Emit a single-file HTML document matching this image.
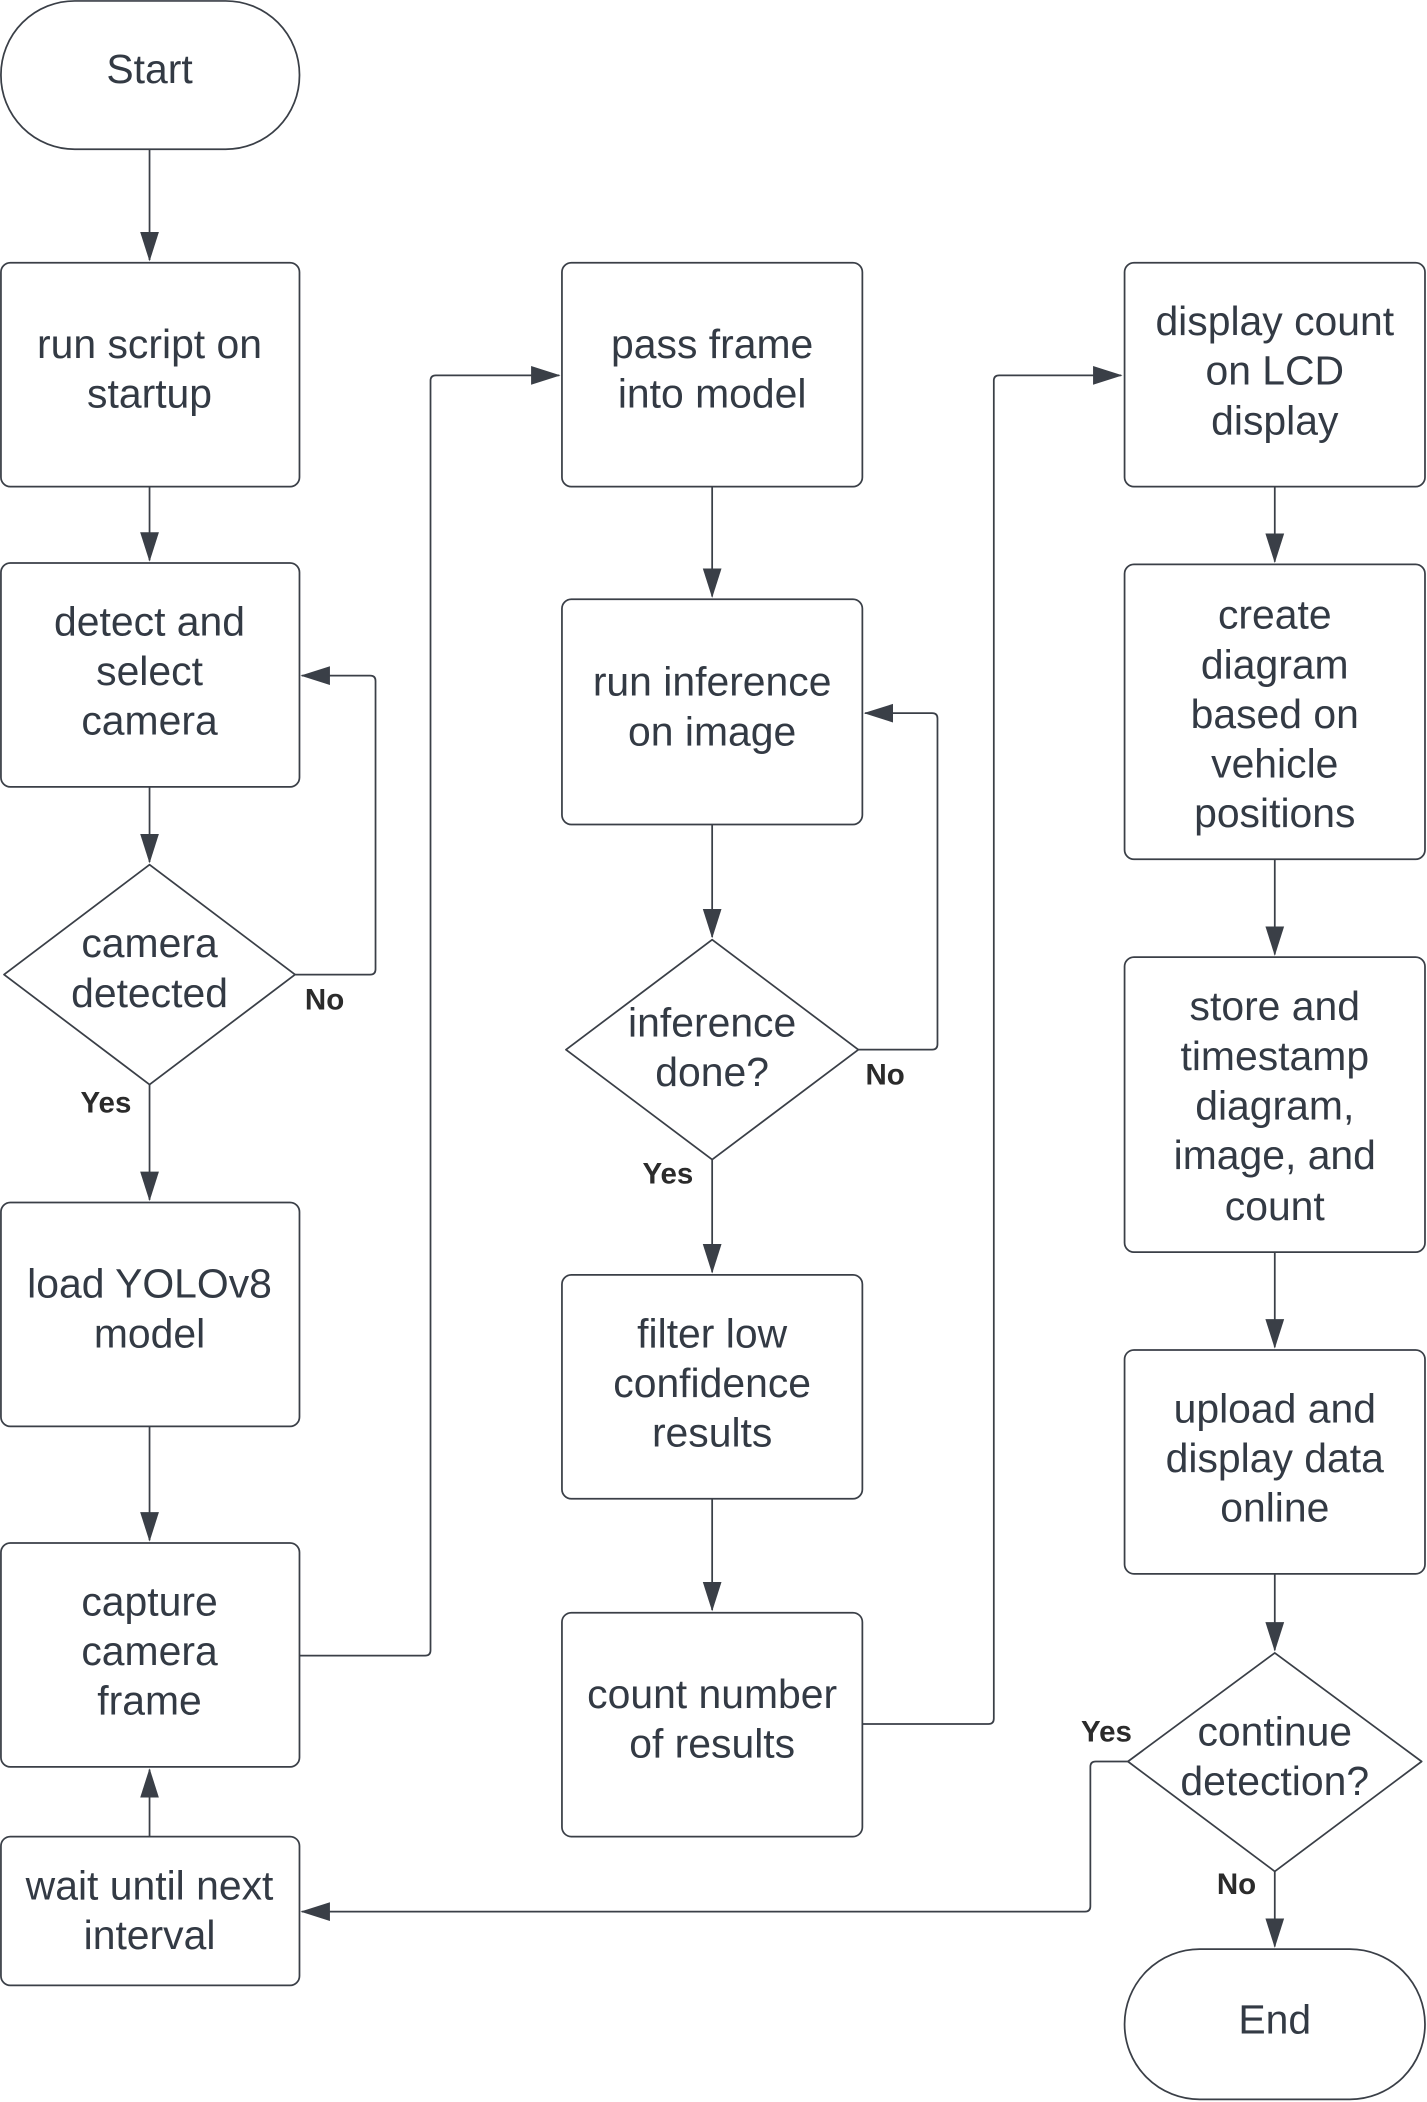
<!DOCTYPE html>
<html><head><meta charset="utf-8"><style>html,body{margin:0;padding:0;background:#fff}svg{display:block}</style></head>
<body>
<svg width="1427" height="2102" viewBox="0 0 1064 1568" preserveAspectRatio="none" xmlns="http://www.w3.org/2000/svg">
<defs>
<marker id="b" markerWidth="22" markerHeight="16" refX="21" refY="8" orient="auto" markerUnits="userSpaceOnUse"><path d="M0,1 L22,8 L0,15 z" fill="#3a3f47"/></marker></defs>
<g fill="#fff" stroke="#3a3f47" stroke-width="1.3">
<rect x="0.7" y="0.7" width="222.6" height="110.6" rx="55"/>
<rect x="0.7" y="196" width="222.6" height="167" rx="7"/>
<rect x="0.7" y="420" width="222.6" height="167" rx="7"/>
<path d="M111.5,645 L220,727 L111.5,809 L3,727 Z" stroke-linejoin="round"/>
<rect x="0.7" y="897" width="222.6" height="167" rx="7"/>
<rect x="0.7" y="1151" width="222.6" height="167" rx="7"/>
<rect x="0.7" y="1370" width="222.6" height="111" rx="7"/>
<rect x="419" y="196" width="224" height="167" rx="7"/>
<rect x="419" y="447" width="224" height="168" rx="7"/>
<path d="M531,701 L640,783 L531,865 L422,783 Z" stroke-linejoin="round"/>
<rect x="419" y="951" width="224" height="167" rx="7"/>
<rect x="419" y="1203" width="224" height="167" rx="7"/>
<rect x="838.5" y="196" width="224" height="167" rx="7"/>
<rect x="838.5" y="421" width="224" height="220" rx="7"/>
<rect x="838.5" y="714" width="224" height="220" rx="7"/>
<rect x="838.5" y="1007" width="224" height="167" rx="7"/>
<path d="M950.5,1233 L1060,1314 L950.5,1396 L841,1314 Z" stroke-linejoin="round"/>
<rect x="838.5" y="1454" width="224" height="112" rx="56"/>
</g>
<g fill="none" stroke="#3a3f47" stroke-width="1.3" marker-end="url(#b)">
<path d="M111.5,111 V194"/>
<path d="M111.5,363 V418"/>
<path d="M111.5,587 V643"/>
<path d="M111.5,809 V895"/>
<path d="M111.5,1064 V1149"/>
<path d="M111.5,1370 V1320"/>
<path d="M220,727 H276 Q280,727 280,723 V508 Q280,504 276,504 H225"/>
<path d="M223,1235 H317 Q321,1235 321,1231 V284 Q321,280 325,280 H417"/>
<path d="M531,363 V445"/>
<path d="M531,615 V699"/>
<path d="M531,865 V949"/>
<path d="M531,1118 V1201"/>
<path d="M640,783 H695 Q699,783 699,779 V536 Q699,532 695,532 H645"/>
<path d="M643,1286 H737 Q741,1286 741,1282 V284 Q741,280 745,280 H836"/>
<path d="M950.5,363 V419"/>
<path d="M950.5,641 V712"/>
<path d="M950.5,934 V1005"/>
<path d="M950.5,1174 V1231"/>
<path d="M950.5,1396 V1452"/>
<path d="M841,1314 H817 Q813,1314 813,1318 V1422 Q813,1426 809,1426 H225"/>
</g>
<g font-family="Liberation Sans, sans-serif" font-size="30.5" fill="#333a44" text-anchor="middle">
<text x="111.5" y="62">Start</text>
<text x="111.5" y="267">run script on</text><text x="111.5" y="304">startup</text>
<text x="111.5" y="474">detect and</text><text x="111.5" y="511">select</text><text x="111.5" y="548">camera</text>
<text x="111.5" y="714">camera</text><text x="111.5" y="751">detected</text>
<text x="111.5" y="968">load YOLOv8</text><text x="111.5" y="1005">model</text>
<text x="111.5" y="1205">capture</text><text x="111.5" y="1242">camera</text><text x="111.5" y="1279">frame</text>
<text x="111.5" y="1417">wait until next</text><text x="111.5" y="1454">interval</text>
<text x="531" y="267">pass frame</text><text x="531" y="304">into model</text>
<text x="531" y="519">run inference</text><text x="531" y="556">on image</text>
<text x="531" y="773">inference</text><text x="531" y="810">done?</text>
<text x="531" y="1005">filter low</text><text x="531" y="1042">confidence</text><text x="531" y="1079">results</text>
<text x="531" y="1274">count number</text><text x="531" y="1311">of results</text>
<text x="950.5" y="250">display count</text><text x="950.5" y="287">on LCD</text><text x="950.5" y="324">display</text>
<text x="950.5" y="469">create</text><text x="950.5" y="506">diagram</text><text x="950.5" y="543">based on</text><text x="950.5" y="580">vehicle</text><text x="950.5" y="617">positions</text>
<text x="950.5" y="761">store and</text><text x="950.5" y="798">timestamp</text><text x="950.5" y="835">diagram,</text><text x="950.5" y="872">image, and</text><text x="950.5" y="910">count</text>
<text x="950.5" y="1061">upload and</text><text x="950.5" y="1098">display data</text><text x="950.5" y="1135">online</text>
<text x="950.5" y="1302">continue</text><text x="950.5" y="1339">detection?</text>
<text x="950.5" y="1517">End</text>
</g>
<g font-family="Liberation Sans, sans-serif" font-size="22" font-weight="bold" fill="#2b2b2b" text-anchor="middle">
<text x="242" y="753">No</text>
<text x="79" y="830">Yes</text>
<text x="660" y="809">No</text>
<text x="498" y="883">Yes</text>
<text x="825" y="1299">Yes</text>
<text x="922" y="1413">No</text>
</g>
</svg>
</body></html>
